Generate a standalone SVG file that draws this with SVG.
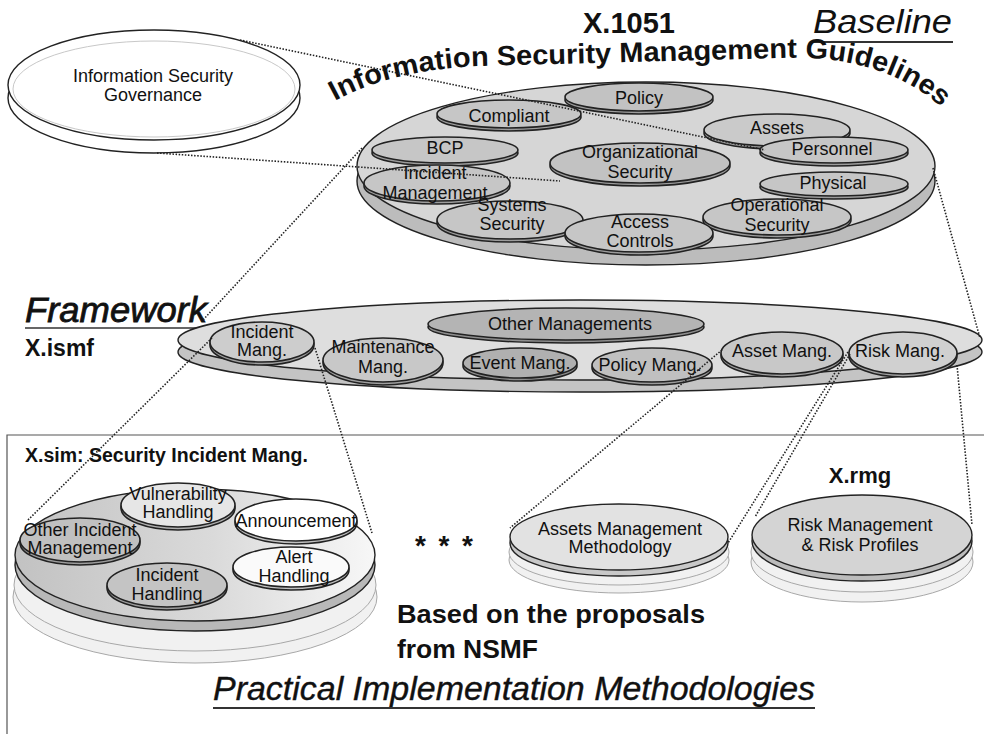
<svg xmlns="http://www.w3.org/2000/svg" width="984" height="734" viewBox="0 0 984 734">
<defs>
<style>
.t{font-family:"Liberation Sans",Arial,sans-serif;fill:#111;}
.lbl{font-family:"Liberation Sans",Arial,sans-serif;font-size:18px;fill:#111;text-anchor:middle;}
.b{font-weight:bold;}
.it{font-style:italic;}
.dot{fill:none;stroke:#222;stroke-width:1.6;stroke-dasharray:1.5 1.6;}
.edge{stroke:#222;stroke-width:1.4;}
.in{stroke:#222;stroke-width:1.6;}
.light{fill:#f1f1f1;stroke:#a8a8a8;stroke-width:1;}
</style>
<linearGradient id="simg" x1="0" y1="0" x2="1" y2="0">
<stop offset="0" stop-color="#c2c2c2"/>
<stop offset="0.55" stop-color="#dadada"/>
<stop offset="1" stop-color="#f7f7f7"/>
</linearGradient>
</defs>
<rect x="0" y="0" width="984" height="734" fill="#fff"/>

<!-- Lower box -->
<g id="impl-box">
<path d="M7,734 L7,435 L984,435" fill="none" stroke="#555" stroke-width="1.2"/>
</g>

<!-- Titles -->
<g id="titles">
<text class="t b" x="583" y="33" font-size="29">X.1051</text>
<text class="t it" x="813" y="33" font-size="34" textLength="139" lengthAdjust="spacingAndGlyphs">Baseline</text>
<line x1="813" y1="42" x2="953" y2="42" stroke="#333" stroke-width="2"/>
<path id="arc" d="M333,102 Q390,70 480,66 L780,58 Q880,54 940,106" fill="none"/>
<text class="t b" font-size="28"><textPath href="#arc" startOffset="2" textLength="624" lengthAdjust="spacingAndGlyphs">Information Security Management Guidelines</textPath></text>
<text class="t it" x="25" y="322" font-size="35" stroke="#111" stroke-width="0.8" textLength="182" lengthAdjust="spacingAndGlyphs">Framework</text>
<line x1="25" y1="328" x2="205" y2="328" stroke="#333" stroke-width="1.6"/>
<text class="t b" x="25" y="356" font-size="23">X.ismf</text>
<text class="t b" x="25" y="462" font-size="19.5">X.sim: Security Incident Mang.</text>
<text class="t b" x="860" y="483" font-size="22" text-anchor="middle">X.rmg</text>
<text class="t b" x="444" y="555" font-size="28" text-anchor="middle" textLength="58" lengthAdjust="spacing">* * *</text>
<text class="t b" x="397" y="623" font-size="25" textLength="308" lengthAdjust="spacingAndGlyphs">Based on the proposals</text>
<text class="t b" x="397" y="658" font-size="25" textLength="141" lengthAdjust="spacingAndGlyphs">from NSMF</text>
<text class="t it" x="213" y="700" font-size="34" stroke="#111" stroke-width="0.4" textLength="602" lengthAdjust="spacingAndGlyphs">Practical Implementation Methodologies</text>
<line x1="213" y1="708" x2="815" y2="708" stroke="#333" stroke-width="1.8"/>
</g>

<!-- Governance -->
<g id="governance">
<ellipse cx="154" cy="98" rx="146" ry="55" fill="#fff" class="edge"/>
<ellipse cx="154" cy="85" rx="146" ry="55" fill="#fff" class="edge"/>
<ellipse cx="154" cy="89" rx="141" ry="48" fill="none" stroke="#c8c8c8" stroke-width="1"/>
<text class="lbl" x="153" y="82">Information Security</text>
<text class="lbl" x="153" y="101">Governance</text>
</g>

<!-- X.1051 baseline disk -->
<g id="x1051">
<ellipse cx="646" cy="181" rx="289" ry="84" fill="#bcbcbc" class="edge"/>
<ellipse cx="646" cy="166" rx="289" ry="84" fill="#d6d6d6" class="edge"/>
</g>
<g id="policy"><ellipse cx="639" cy="100" rx="74" ry="14" fill="#9c9c9c" class="in"/><ellipse cx="639" cy="97" rx="74" ry="14" fill="#c2c2c2" class="in"/><text class="lbl" x="639" y="104">Policy</text></g>
<g id="compliant"><ellipse cx="509" cy="117" rx="72" ry="14" fill="#9c9c9c" class="in"/><ellipse cx="509" cy="114" rx="72" ry="14" fill="#c6c6c6" class="in"/><text class="lbl" x="509" y="122">Compliant</text></g>
<g id="assets"><ellipse cx="777" cy="133" rx="73" ry="16" fill="#9c9c9c" class="in"/><ellipse cx="777" cy="130" rx="73" ry="16" fill="#cacaca" class="in"/><text class="lbl" x="777" y="134">Assets</text></g>
<g id="bcp"><ellipse cx="445" cy="153" rx="73" ry="13" fill="#9c9c9c" class="in"/><ellipse cx="445" cy="150" rx="73" ry="13" fill="#c6c6c6" class="in"/><text class="lbl" x="445" y="154">BCP</text></g>
<g id="personnel"><ellipse cx="834" cy="153" rx="74" ry="13" fill="#9c9c9c" class="in"/><ellipse cx="834" cy="150" rx="74" ry="13" fill="#c6c6c6" class="in"/><text class="lbl" x="832" y="155">Personnel</text></g>
<g id="organizational"><ellipse cx="640" cy="166" rx="90" ry="20" fill="#9c9c9c" class="in"/><ellipse cx="640" cy="163" rx="90" ry="20" fill="#c2c2c2" class="in"/><text class="lbl" x="640" y="158">Organizational</text><text class="lbl" x="640" y="178">Security</text></g>
<g id="incident-management"><ellipse cx="437" cy="186" rx="73" ry="18" fill="#9c9c9c" class="in"/><ellipse cx="437" cy="183" rx="73" ry="18" fill="#c6c6c6" class="in"/><text class="lbl" x="435" y="179">Incident</text><text class="lbl" x="435" y="199">Management</text></g>
<g id="physical"><ellipse cx="834" cy="187" rx="74" ry="12" fill="#9c9c9c" class="in"/><ellipse cx="834" cy="184" rx="74" ry="12" fill="#c6c6c6" class="in"/><text class="lbl" x="833" y="189">Physical</text></g>
<g id="systems-security"><ellipse cx="510" cy="223" rx="73" ry="19" fill="#9c9c9c" class="in"/><ellipse cx="510" cy="220" rx="73" ry="19" fill="#c6c6c6" class="in"/><text class="lbl" x="512" y="211">Systems</text><text class="lbl" x="512" y="230">Security</text></g>
<g id="operational-security"><ellipse cx="777" cy="220" rx="74" ry="18" fill="#9c9c9c" class="in"/><ellipse cx="777" cy="217" rx="74" ry="18" fill="#c6c6c6" class="in"/><text class="lbl" x="777" y="211">Operational</text><text class="lbl" x="777" y="231">Security</text></g>
<g id="access-controls"><ellipse cx="639" cy="236" rx="74" ry="19" fill="#9c9c9c" class="in"/><ellipse cx="639" cy="233" rx="74" ry="19" fill="#c6c6c6" class="in"/><text class="lbl" x="640" y="228">Access</text><text class="lbl" x="640" y="247">Controls</text></g>

<!-- Framework disk -->
<g id="framework">
<ellipse cx="580" cy="352" rx="402" ry="40" fill="#c4c4c4" class="edge"/>
<ellipse cx="580" cy="340" rx="402" ry="40" fill="#dedede" class="edge"/>
</g>
<g id="other-managements"><ellipse cx="566" cy="327" rx="138" ry="16" fill="#8e8e8e" class="in"/><ellipse cx="566" cy="324" rx="138" ry="16" fill="#b4b4b4" class="in"/><text class="lbl" x="570" y="330">Other Managements</text></g>
<g id="incident-mang"><ellipse cx="262" cy="345" rx="52" ry="20" fill="#a0a0a0" class="in"/><ellipse cx="262" cy="342" rx="52" ry="20" fill="#cdcdcd" class="in"/><text class="lbl" x="262" y="338">Incident</text><text class="lbl" x="262" y="356">Mang.</text></g>
<g id="maintenance-mang"><ellipse cx="383" cy="363" rx="60" ry="22" fill="#a0a0a0" class="in"/><ellipse cx="383" cy="360" rx="60" ry="22" fill="#c8c8c8" class="in"/><text class="lbl" x="383" y="353">Maintenance</text><text class="lbl" x="383" y="373">Mang.</text></g>
<g id="event-mang"><ellipse cx="520" cy="366" rx="57" ry="15" fill="#8e8e8e" class="in"/><ellipse cx="520" cy="363" rx="57" ry="15" fill="#b0b0b0" class="in"/><text class="lbl" x="520" y="369">Event Mang.</text></g>
<g id="policy-mang"><ellipse cx="652" cy="368" rx="60" ry="17" fill="#9a9a9a" class="in"/><ellipse cx="652" cy="365" rx="60" ry="17" fill="#c0c0c0" class="in"/><text class="lbl" x="650" y="371">Policy Mang.</text></g>
<g id="asset-mang"><ellipse cx="782" cy="356" rx="61" ry="21" fill="#a0a0a0" class="in"/><ellipse cx="782" cy="353" rx="61" ry="21" fill="#c8c8c8" class="in"/><text class="lbl" x="782" y="357">Asset Mang.</text></g>
<g id="risk-mang"><ellipse cx="903" cy="356" rx="54" ry="21" fill="#a0a0a0" class="in"/><ellipse cx="903" cy="353" rx="54" ry="21" fill="#d0d0d0" class="in"/><text class="lbl" x="900" y="357">Risk Mang.</text></g>

<!-- X.sim disk -->
<g id="xsim">
<ellipse cx="195" cy="597" rx="182" ry="66" class="light"/>
<ellipse cx="195" cy="585" rx="181" ry="66" class="light"/>
<ellipse cx="195" cy="565" rx="180" ry="66" fill="#b8b8b8" class="edge"/>
<ellipse cx="195" cy="555" rx="180" ry="66" fill="url(#simg)" class="edge"/>
</g>
<g id="vulnerability-handling"><ellipse cx="178" cy="508" rx="57" ry="22" fill="#b0b0b0" class="in"/><ellipse cx="178" cy="505" rx="57" ry="22" fill="#e6e6e6" class="in"/><text class="lbl" x="178" y="500">Vulnerability</text><text class="lbl" x="178" y="518">Handling</text></g>
<g id="announcement"><ellipse cx="296" cy="523" rx="61" ry="21" fill="#c0c0c0" class="in"/><ellipse cx="296" cy="520" rx="61" ry="21" fill="#fff" class="in"/><text class="lbl" x="296" y="527">Announcement</text></g>
<g id="other-incident-management"><ellipse cx="80" cy="543" rx="60" ry="22" fill="#9c9c9c" class="in"/><ellipse cx="80" cy="540" rx="60" ry="22" fill="#c0c0c0" class="in"/><text class="lbl" x="80" y="536">Other Incident</text><text class="lbl" x="80" y="554">Management</text></g>
<g id="incident-handling"><ellipse cx="167" cy="588" rx="60" ry="22" fill="#9c9c9c" class="in"/><ellipse cx="167" cy="585" rx="60" ry="22" fill="#c4c4c4" class="in"/><text class="lbl" x="167" y="581">Incident</text><text class="lbl" x="167" y="600">Handling</text></g>
<g id="alert-handling"><ellipse cx="291" cy="570" rx="58" ry="20" fill="#c0c0c0" class="in"/><ellipse cx="291" cy="567" rx="58" ry="20" fill="#fafafa" class="in"/><text class="lbl" x="294" y="563">Alert</text><text class="lbl" x="294" y="582">Handling</text></g>

<!-- Assets Management Methodology disk -->
<g id="assets-methodology">
<ellipse cx="619" cy="560" rx="110" ry="33" class="light"/>
<ellipse cx="619" cy="552" rx="110" ry="33" class="light"/>
<ellipse cx="619" cy="543" rx="109" ry="33" fill="#c8c8c8" class="edge"/>
<ellipse cx="619" cy="537" rx="109" ry="33" fill="#e2e2e2" class="edge"/>
<text class="lbl" x="620" y="535">Assets Management</text>
<text class="lbl" x="620" y="553">Methodology</text>
</g>

<!-- X.rmg disk -->
<g id="xrmg">
<ellipse cx="862" cy="562" rx="111" ry="40" class="light"/>
<ellipse cx="862" cy="552" rx="111" ry="40" class="light"/>
<ellipse cx="862" cy="541" rx="110" ry="40" fill="#bcbcbc" class="edge"/>
<ellipse cx="862" cy="535" rx="110" ry="40" fill="#d4d4d4" class="edge"/>
<text class="lbl" x="860" y="531">Risk Management</text>
<text class="lbl" x="860" y="551">&amp; Risk Profiles</text>
</g>

<!-- Connectors -->
<g id="connectors">
<line class="dot" x1="240" y1="40" x2="765" y2="150"/>
<line class="dot" x1="157" y1="153" x2="560" y2="181"/>
<line class="dot" x1="362" y1="148" x2="203" y2="320"/>
<line class="dot" x1="933" y1="168" x2="980" y2="338"/>
<line class="dot" x1="212" y1="338" x2="28" y2="520"/>
<line class="dot" x1="315" y1="348" x2="372" y2="533"/>
<line class="dot" x1="722" y1="350" x2="510" y2="528"/>
<line class="dot" x1="848" y1="352" x2="728" y2="543"/>
<line class="dot" x1="850" y1="354" x2="755" y2="517"/>
<line class="dot" x1="957" y1="365" x2="972" y2="525"/>
</g>
</svg>
